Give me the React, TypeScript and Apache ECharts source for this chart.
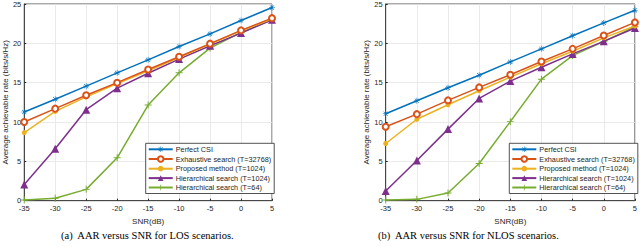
import React, { useEffect, useRef } from "react";
import * as echarts from "echarts";

const snr = [-35, -30, -25, -20, -15, -10, -5, 0, 5];
const seriesNames = [
  "Perfect CSI",
  "Exhaustive search (T=32768)",
  "Proposed method (T=1024)",
  "Hierarchical search (T=1024)",
  "Hierarchical search (T=64)",
];
const xTicks = [-35, -30, -25, -20, -15, -10, -5, 0, 5];
const yTicks = [0, 5, 10, 15, 20, 25];

// LOS (a)
const losPerfect = [11.27, 12.9, 14.56, 16.25, 17.9, 19.6, 21.2, 22.9, 24.55];
const losExhaustive = [10.0, 11.7, 13.4, 15.0, 16.67, 18.3, 19.96, 21.65, 23.2];
const losProposed = [8.65, 11.35, 13.2, 14.9, 16.5, 18.2, 19.9, 21.6, 23.1];
const losHier1024 = [2.07, 6.6, 11.57, 14.3, 16.2, 18.0, 19.7, 21.3, 23.0];
const losHier64 = [0.1, 0.3, 1.44, 5.45, 12.15, 16.25, 19.4, 21.4, 23.0];

// NLOS (b)
const nlosPerfect = [11.05, 12.7, 14.35, 15.95, 17.64, 19.3, 20.97, 22.6, 24.2];
const nlosExhaustive = [9.4, 11.0, 12.75, 14.4, 16.0, 17.7, 19.3, 21.0, 22.66];
const nlosProposed = [7.27, 10.35, 12.2, 13.97, 15.7, 17.4, 19.0, 20.7, 22.2];
const nlosHier1024 = [1.23, 5.1, 9.1, 13.0, 15.2, 16.96, 18.66, 20.25, 21.95];
const nlosHier64 = [0.09, 0.17, 0.97, 4.73, 10.05, 15.45, 18.44, 20.25, 22.1];

const captions = [
  "(a)  AAR versus SNR for LOS scenarios.",
  "(b)  AAR versus SNR for NLOS scenarios.",
];

const colors = ["#0072BD", "#D95319", "#EDB120", "#7E2F8E", "#77AC30"];

const asterisk =
  "path://M4.5,0h1v3.8l2.7-2.7l0.7,0.7L6.2,4.5H10v1H6.2l2.7,2.7l-0.7,0.7L5.5,6.2V10h-1V6.2L1.8,8.9L1.1,8.2L3.8,5.5H0v-1h3.8L1.1,1.8l0.7-0.7l2.7,2.7z";
const plus = "path://M4.3,0h1.4v4.3H10v1.4H5.7V10H4.3V5.7H0V4.3h4.3z";

const symbols = [asterisk, "emptyCircle", "circle", "triangle", plus];
const symbolSizes = [6, 6, 5, 8, 7];

const FONT = "'Liberation Sans', Arial, sans-serif";

export default function App() {
  const ref = useRef<HTMLDivElement>(null);
  useEffect(() => {
    if (!ref.current) return;
    const chart = echarts.init(ref.current, undefined, { renderer: "svg" });
    const grids = [
      { left: 22, top: 3.3, width: 250, height: 197.4 },
      { left: 385.7, top: 3.3, width: 249.3, height: 197.4 },
    ];
    const data = [
      [losPerfect, losExhaustive, losProposed, losHier1024, losHier64],
      [nlosPerfect, nlosExhaustive, nlosProposed, nlosHier1024, nlosHier64],
    ];
    const xAxes = grids.map((_, i) => ({
      type: "value",
      gridIndex: i,
      min: -35,
      max: 5,
      interval: 5,
      name: "SNR(dB)",
      nameLocation: "middle",
      nameGap: 13,
      nameTextStyle: { fontFamily: FONT, fontSize: 8, color: "#262626" },
      axisLine: { show: true, onZero: false, lineStyle: { color: "#262626", width: 0.8 } },
      axisTick: { show: true, inside: true, length: 2, lineStyle: { color: "#262626" } },
      axisLabel: {
        fontFamily: FONT,
        fontSize: 7.5,
        color: "#262626",
        margin: 4,
        formatter: (v: number) => (xTicks.includes(v) ? String(v) : ""),
      },
      splitLine: { show: true, lineStyle: { color: "#e5e5e5", width: 0.8 } },
    }));
    const yAxes = grids.map((_, i) => ({
      type: "value",
      gridIndex: i,
      min: 0,
      max: 25,
      interval: 5,
      name: "Average achievable rate (bits/s/Hz)",
      nameLocation: "middle",
      nameGap: 11,
      nameTextStyle: { fontFamily: FONT, fontSize: 8, color: "#262626" },
      axisLine: { show: true, onZero: false, lineStyle: { color: "#262626", width: 0.8 } },
      axisTick: { show: true, inside: true, length: 2, lineStyle: { color: "#262626" } },
      axisLabel: {
        fontFamily: FONT,
        fontSize: 7.5,
        color: "#262626",
        margin: 3,
        formatter: (v: number) => (yTicks.includes(v) ? String(v) : ""),
      },
      splitLine: { show: true, lineStyle: { color: "#e5e5e5", width: 0.8 } },
    }));
    const series: any[] = [];
    data.forEach((set, gi) => {
      set.forEach((vals, si) => {
        series.push({
          type: "line",
          name: seriesNames[si],
          xAxisIndex: gi,
          yAxisIndex: gi,
          data: vals.map((v, k) => [snr[k], v]),
          symbol: symbols[si],
          symbolSize: symbolSizes[si],
          showAllSymbol: true,
          lineStyle: { color: colors[si], width: 1.5 },
          itemStyle: { color: colors[si], borderColor: colors[si], borderWidth: si === 1 ? 1.2 : 0 },
          z: 10 - si,
        });
      });
    });
    const legends = [145.7, 509.3].map((left) => ({
      left,
      top: 143.3,
      orient: "vertical",
      data: seriesNames,
      itemWidth: 24,
      itemHeight: 7,
      itemGap: 2.4,
      padding: [2.5, 3, 2.5, 2],
      backgroundColor: "#ffffff",
      borderColor: "#262626",
      borderWidth: 0.8,
      borderRadius: 0,
      selectedMode: false,
      textStyle: { fontFamily: FONT, fontSize: 7.3, color: "#262626", padding: [0, 0, 0, -2] },
    }));
    chart.setOption({
      animation: false,
      backgroundColor: "#ffffff",
      grid: grids.map((g) => ({ ...g, show: true, borderColor: "#262626", borderWidth: 0.8, backgroundColor: "transparent" })),
      xAxis: xAxes,
      yAxis: yAxes,
      legend: legends,
      series,
      graphic: [
        {
          type: "text",
          left: 160 - 99,
          top: 230,
          style: { text: captions[0], font: "10.5px 'Liberation Serif', 'Times New Roman', serif", fill: "#000" },
        },
        {
          type: "text",
          left: 480 - 102,
          top: 230,
          style: { text: captions[1], font: "10.5px 'Liberation Serif', 'Times New Roman', serif", fill: "#000" },
        },
      ],
    });
    return () => chart.dispose();
  }, []);
  return <div ref={ref} style={{ width: 640, height: 247, position: "absolute", left: 0, top: 0 }} />;
}
